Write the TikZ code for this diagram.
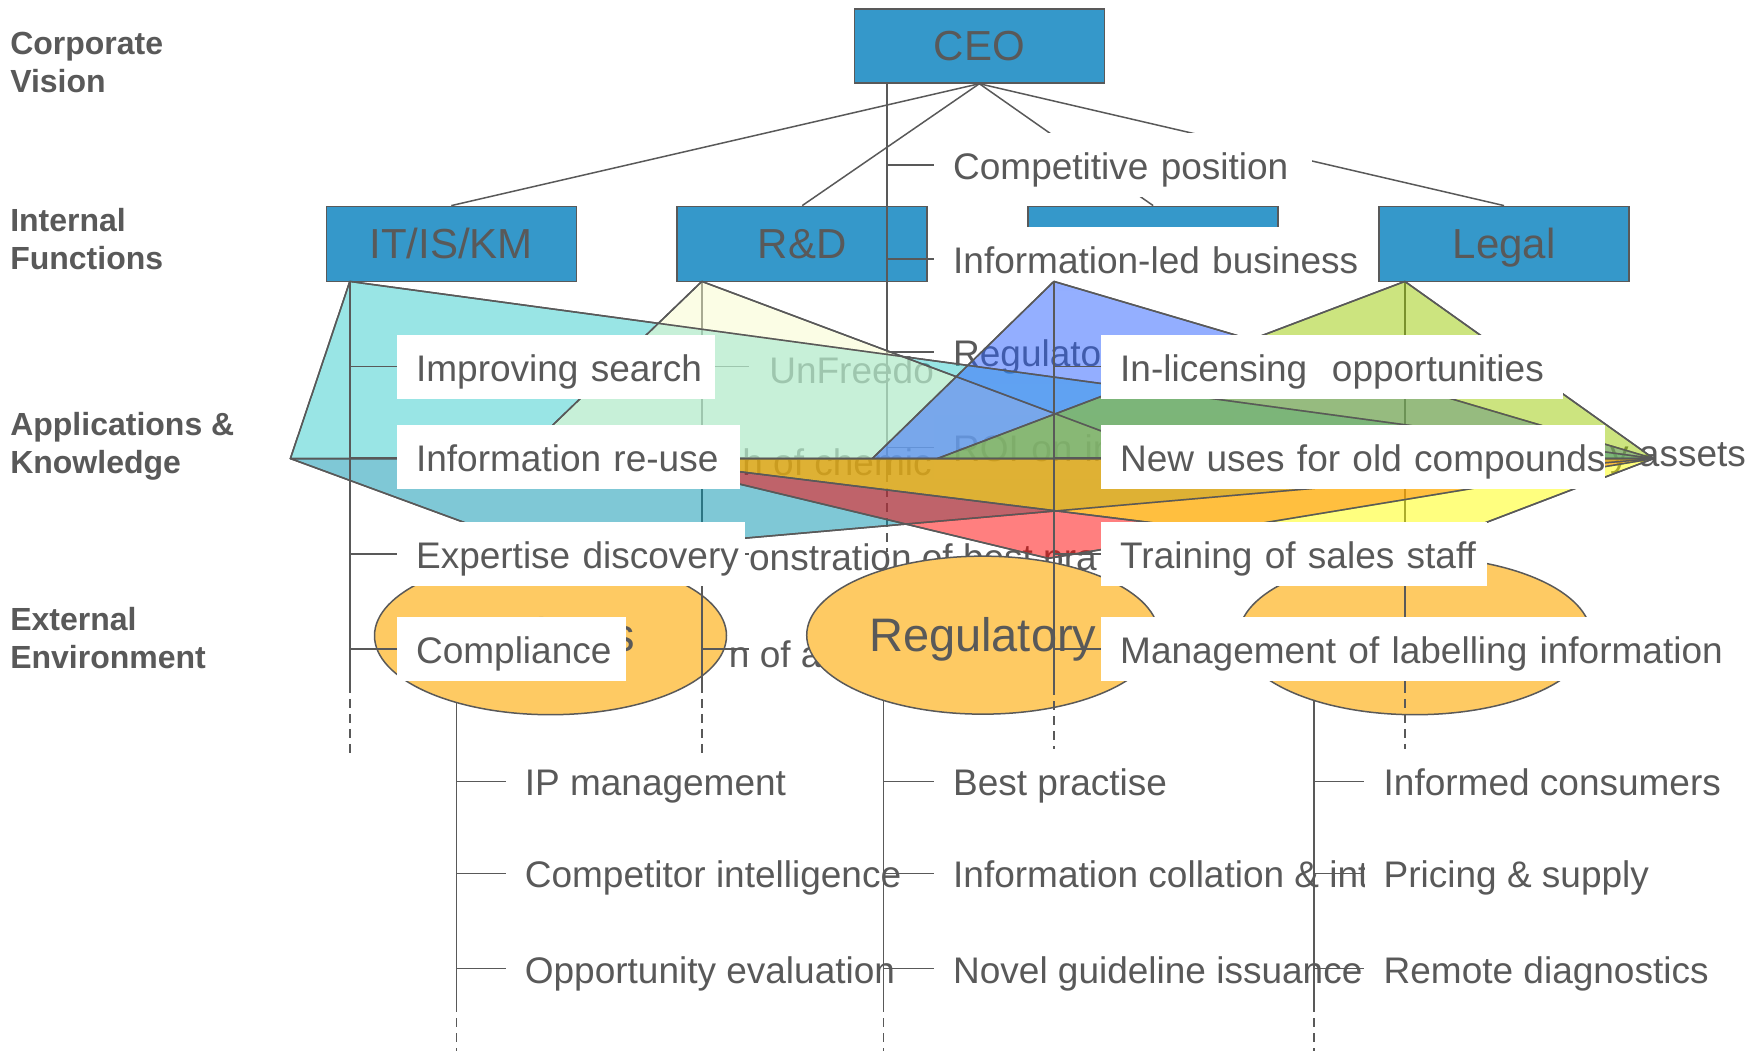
\documentclass[tikz,border=0pt]{standalone}
\usepackage{fontspec}
\setmainfont{Liberation Sans}
\usetikzlibrary{shapes.geometric}
\definecolor{ink}{RGB}{89,89,89}
\definecolor{boxblue}{RGB}{53,152,202}
\definecolor{ovalfill}{RGB}{254,202,99}
\definecolor{lyCyan}{RGB}{51,204,204}
\definecolor{lyTeal}{RGB}{0,145,173}
\definecolor{lyCream}{RGB}{247,251,203}
\definecolor{lyBlue}{RGB}{41,95,255}
\definecolor{lyLime}{RGB}{153,201,0}
\definecolor{lyRed}{RGB}{255,0,0}
\definecolor{lyYellow}{RGB}{255,255,0}
\begin{document}
\begin{tikzpicture}[x=1.1212pt,y=-1.1212pt,
  func/.style={draw=ink, line width=1.5pt, fill=boxblue, minimum width=250pt,
    minimum height=75pt, inner sep=0pt, text height=30pt, text depth=0pt,
    text=ink, font=\fontsize{42}{50}\selectfont},
  link/.style={draw=ink, line width=1.5pt},
  dashlink/.style={link, dash pattern=on 9pt off 6pt},
  tag/.style={anchor=west, fill=white, inner xsep=19pt, inner ysep=0pt,
    minimum height=64pt, text height=29pt, text depth=0pt, text=ink,
    font=\fontsize{37}{44}\selectfont},
  tagw/.style={tag, inner xsep=0pt, text width=#1, align=left,
    execute at begin node=\hspace*{19pt}},
  frag/.style={anchor=west, inner sep=0pt, text height=29pt, text depth=0pt,
    text=ink, font=\fontsize{37}{44}\selectfont},
  oval/.style={ellipse, draw=ink, line width=1.5pt, fill=ovalfill,
    minimum width=352pt, minimum height=158pt, inner sep=0pt, text=ink,
    text height=32pt, text depth=0pt, font=\fontsize{47}{56}\selectfont},
  layer/.style={draw=ink, line width=1.5pt, fill opacity=0.5, line join=round},
  rowlabel/.style={anchor=west, align=left, inner sep=0pt, text=ink,
    font=\fontsize{32}{38}\selectfont\bfseries}]
\useasboundingbox (0,0) rectangle (1568,937);

% ---- row captions
\node[rowlabel] (rowA) at (9,55.5) {Corporate\\Vision};
\node[rowlabel] (rowB) at (9,213) {Internal\\Functions};
\node[rowlabel] (rowC) at (9,398) {Applications \&\\Knowledge};
\node[rowlabel] (rowD) at (9,569.5) {External\\Environment};

% ---- organisation boxes
\node[func, minimum height=74pt] (ceo) at (873.5,41) {CEO};
\node[func] (it) at (402.5,217.5) {IT/IS/KM};
\node[func] (rd) at (715.5,217.5) {R\&D};
\node[func] (mk) at (1028.5,217.5) {};
\node[func] (legal) at (1341.5,217.5) {Legal};
\draw[link] (ceo.south) -- (it.north);
\draw[link] (ceo.south) -- (rd.north);
\draw[link] (ceo.south) -- (mk.north);
\draw[link] (ceo.south) -- (legal.north);

% ---- R&D list (partly hidden)
\coordinate (sR) at (626,251);
\coordinate (sRa) at (626,610);
\coordinate (sRb) at (626,672);
\node[frag] (r1) at (686,329) {UnFreedo};
\node[frag] (r2) at (662,411) {h of chemic};
\node[frag] (r3) at (668,496) {onstration of best pra};
\node[frag] (r4) at (650,582) {n of ac};

% ---- external environment ovals and the spines of their lists
\coordinate (sE1) at (407,567);  \coordinate (sE1a) at (407,895); \coordinate (sE1b) at (407,940);
\coordinate (sE2) at (788,567);  \coordinate (sE2a) at (788,895); \coordinate (sE2b) at (788,940);
\coordinate (sE3) at (1172,567); \coordinate (sE3a) at (1172,895); \coordinate (sE3b) at (1172,940);
\coordinate (sE3t) at (1172,624);
\draw[link] (sE1) -- (sE1a); \draw[dashlink] (sE1a) -- (sE1b);
\draw[link] (sE2) -- (sE2a); \draw[dashlink] (sE2a) -- (sE2b);
\draw[link] (sE3) -- (sE3a); \draw[dashlink] (sE3a) -- (sE3b);
\node[oval] (e1) at (491,567) {Patients};
\node[oval] (e2) at (876.5,566.5) {Regulatory};
\node[oval] (e3) at (1262,567) {Doctors};

\draw[link] (sR) -- (sRa); \draw[dashlink] (sRa) -- (sRb);
\foreach \y in {327,408,494,579} \draw[link] (626,\y) -- (668,\y);

% ---- CEO list
\coordinate (sC) at (791,74);
\coordinate (sCa) at (791,422);
\coordinate (sCb) at (791,492);
\draw[link] (sC) -- (sCa); \draw[dashlink] (sCa) -- (sCb);
\node[tagw=377.8pt] (c1) at (833,147) {\mbox{Competitive position}};
\node[tagw=444pt] (c2) at (833,231) {\mbox{Information-led business}};
\node[tagw=300pt] (c3) at (833,314) {\mbox{Regulato}};
\node[tagw=300pt] (c4) at (833,399) {\mbox{ROI on in}};
\foreach \n in {c1,c2,c3,c4} \draw[link] (sC |- \n.west) -- (\n.west);

% ---- Legal list
\coordinate (sL) at (1253,251);
\coordinate (sLa) at (1253,610);
\coordinate (sLb) at (1253,672);
\draw[link] (sL) -- (sLa); \draw[dashlink] (sLa) -- (sLb);
\node[frag] (g2) at (1436,403) {y assets};
\coordinate (g2tick) at (1295,408);
\draw[link] (sL |- g2tick) -- (g2tick);

% ---- application layers
\fill[layer, fill=lyCyan]   (312,251) -- (259,409) -- (1475,409) -- cycle;
\fill[layer, fill=lyTeal]   (259,409) -- (493,495) -- (1475,409) -- cycle;
\fill[layer, fill=lyCream]  (626,251) -- (462,409) -- (1048,409) -- cycle;
\fill[layer, fill=lyBlue]   (940,251) -- (778,409) -- (1475,409) -- cycle;
\fill[layer, fill=lyLime]   (1253,251) -- (836,409) -- (1475,409) -- cycle;
\fill[layer, fill=lyRed]    (565,409) -- (935,498) -- (1475,409) -- cycle;
\fill[layer, fill=lyYellow] (565,409) -- (1252,494) -- (1475,409) -- cycle;
\draw[layer] (312,251) -- (259,409) -- (1475,409) -- cycle;
\draw[layer] (259,409) -- (493,495) -- (1475,409);
\draw[layer] (626,251) -- (462,409) (626,251) -- (1048,409);
\draw[layer] (940,251) -- (778,409) (940,251) -- (1475,409);
\draw[layer] (1253,251) -- (836,409) (1253,251) -- (1475,409);
\draw[layer] (565,409) -- (935,498) -- (1475,409);
\draw[layer] (565,409) -- (1252,494) -- (1475,409);

% ---- IT list
\coordinate (sI) at (312,251);
\coordinate (sIa) at (312,610);
\coordinate (sIb) at (312,675);
\draw[link] (sI) -- (sIa); \draw[dashlink] (sIa) -- (sIb);
\node[tagw=318.4pt] (i1) at (354,327) {\mbox{Improving search}};
\node[tagw=343.1pt] (i2) at (354,408) {\mbox{Information re-use}};
\node[tagw=347.6pt] (i3) at (354,494) {\mbox{Expertise discovery}};
\node[tagw=228.7pt] (i4) at (354,579) {\mbox{Compliance}};
\foreach \n in {i1,i2,i3,i4} \draw[link] (sI |- \n.west) -- (\n.west);

% ---- third function list
\coordinate (sM) at (940,251);
\coordinate (sMa) at (940,612);
\coordinate (sMb) at (940,675);
\draw[link] (sM) -- (sMa); \draw[dashlink] (sMa) -- (sMb);
\node[tagw=462pt] (m1) at (982,327) {\mbox{In-licensing\ \ opportunities}};
\node[tagw=503.4pt] (m2) at (982,408) {\mbox{New uses for old compounds}};
\node[tagw=385.7pt] (m3) at (982,494) {\mbox{Training of sales staff}};
\node[tagw=638pt] (m4) at (982,579) {\mbox{Management of labelling information}};
\foreach \n in {m1,m2,m3,m4} \draw[link] (sM |- \n.west) -- (\n.west);

% ---- external environment lists
\node[tag, fill=none] (x1) at (451,697) {IP management};
\node[tag, fill=none] (x2) at (451,779) {Competitor intelligence};
\node[tag, fill=none] (x3) at (451,864) {Opportunity evaluation};
\foreach \n in {x1,x2,x3} \draw[link] (sE1 |- \n.west) -- (\n.west);
\node[tag] (y1) at (833,697) {Best practise};
\node[tag] (y2) at (833,779) {Information collation \& interpretation};
\node[tag] (y3) at (833,864) {Novel guideline issuance};
\foreach \n in {y1,y2,y3} \draw[link] (sE2 |- \n.west) -- (\n.west);
\draw[link] (sE3t) -- (sE3a);
\node[tag] (z1) at (1217,697) {Informed consumers};
\node[tag] (z2) at (1217,779) {Pricing \& supply};
\node[tag] (z3) at (1217,864) {Remote diagnostics};
\foreach \n in {z1,z2,z3} \draw[link] (sE3 |- \n.west) -- (\n.west);
\end{tikzpicture}
\end{document}
